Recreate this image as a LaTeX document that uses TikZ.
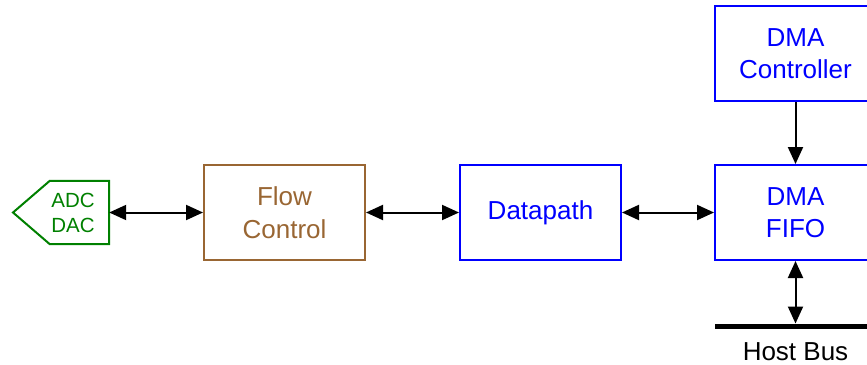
\documentclass[tikz,border=0pt]{standalone}
\usepackage{fontspec}
\setmainfont{Liberation Sans}
\usetikzlibrary{arrows.meta}
\definecolor{myblue}{RGB}{0,0,255}
\definecolor{mygreen}{RGB}{0,128,0}
\definecolor{mybrown}{RGB}{153,102,51}
\begin{document}
\begin{tikzpicture}[x=1pt,y=-1pt,
  blk/.style={draw, line width=2pt, minimum width=161pt, minimum height=95pt, inner sep=0pt, align=center, font=\fontsize{26}{32.5}\selectfont},
  conn/.style={line width=2pt, -{Triangle[length=17pt,width=15pt]}},
  biconn/.style={line width=2pt, {Triangle[length=17pt,width=15pt]}-{Triangle[length=17pt,width=15pt]}},
  bus/.style={line width=5pt}]
\useasboundingbox (0,0) rectangle (867,364);
\clip (0,0) rectangle (867,364);
% ADC/DAC pentagon
\node[minimum width=59pt, minimum height=63pt, inner sep=0pt] (adc) at (79.5,212.5) {};
\draw[mygreen, line width=2pt, line join=miter] (adc.north east) -- (adc.south east) -- (adc.south west) -- (13,212.5) -- (adc.north west) -- cycle;
\node[text=mygreen, align=center, inner sep=0pt, font=\fontsize{20.5}{25}\selectfont] (adctext) at (73,213) {ADC\\DAC};
% blocks
\node[blk, draw=mybrown, text=mybrown] (flow) at (284.5,212.5) {Flow\\Control};
\node[blk, draw=myblue, text=myblue] (dp) at (540.5,212.5) {Datapath};
\node[blk, draw=myblue, text=myblue] (fifo) at (795.5,212.5) {DMA\\FIFO};
\node[blk, draw=myblue, text=myblue] (ctrl) at (795.5,53.5) {DMA\\Controller};
% bus
\coordinate (busL) at (715,326);
\coordinate (busR) at (875,326);
\coordinate (bushit) at (795.5,323.5);
\draw[bus] (busL) -- (busR);
\node[anchor=base, inner sep=0pt, font=\fontsize{26}{30}\selectfont] (hostbus) at (795.5,360) {Host Bus};
% connectors
\draw[biconn] (adc.east) -- (flow.west);
\draw[biconn] (flow.east) -- (dp.west);
\draw[biconn] (dp.east) -- (fifo.west);
\draw[conn] (ctrl.south) -- (fifo.north);
\draw[biconn] (fifo.south) -- (bushit);
\end{tikzpicture}
\end{document}
